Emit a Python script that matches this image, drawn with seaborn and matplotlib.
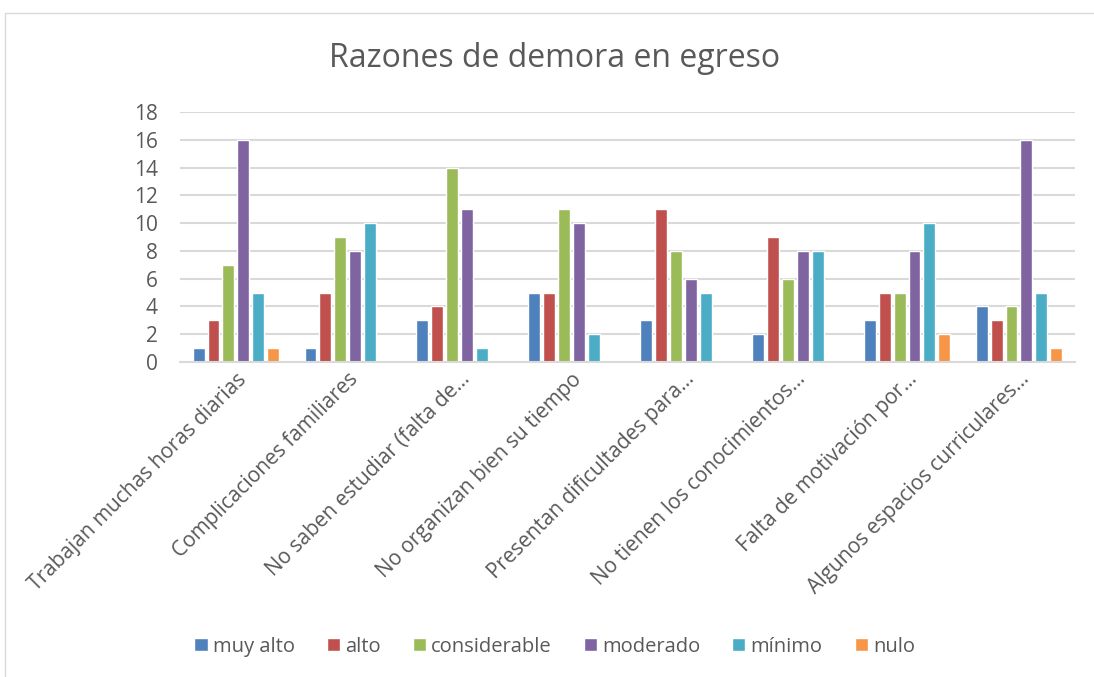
import matplotlib
matplotlib.use("Agg")
import matplotlib.pyplot as plt
import seaborn as sns
import pandas as pd
from matplotlib.patches import Rectangle

categories = [
    "Trabajan muchas horas diarias",
    "Complicaciones familiares",
    "No saben estudiar (falta de…",
    "No organizan bien su tiempo",
    "Presentan dificultades para…",
    "No tienen los conocimientos…",
    "Falta de motivación por…",
    "Algunos espacios curriculares…",
]
series_names = ["muy alto", "alto", "considerable", "moderado", "mínimo", "nulo"]
muy_alto = [1, 1, 3, 5, 3, 2, 3, 4]
alto = [3, 5, 4, 5, 11, 9, 5, 3]
considerable = [7, 9, 14, 11, 8, 6, 5, 4]
moderado = [16, 8, 11, 10, 6, 8, 8, 16]
minimo = [5, 10, 1, 2, 5, 8, 10, 5]
nulo = [1, 0, 0, 0, 0, 0, 2, 1]
y_ticks = [0, 2, 4, 6, 8, 10, 12, 14, 16, 18]
colors = ["#4F81BD", "#C0504D", "#9BBB59", "#8064A2", "#4BACC6", "#F79646"]

values = [muy_alto, alto, considerable, moderado, minimo, nulo]
rows = []
for name, vals in zip(series_names, values):
    for c, v in zip(categories, vals):
        rows.append({"cat": c, "serie": name, "valor": v})
df = pd.DataFrame(rows)

sns.set_theme(style="white")
plt.rcParams["font.family"] = ["Open Sans", "DejaVu Sans"]
text_color = "#595959"

fig = plt.figure(figsize=(10.94, 6.77), dpi=100)
ax = fig.add_axes([0.1645, 0.4653, 0.818, 0.3693])

sns.barplot(data=df, x="cat", y="valor", hue="serie", order=categories,
            hue_order=series_names, palette=colors, width=0.8, gap=0.2,
            ax=ax, saturation=1, legend=True)

ax.set_ylim(0, 18)
ax.set_yticks(y_ticks)
ax.set_xlim(-0.5, len(categories) - 0.5)
ax.yaxis.grid(True, color="#D9D9D9", linewidth=1.5)
ax.set_axisbelow(True)
for s in ["top", "right", "left"]:
    ax.spines[s].set_visible(False)
ax.spines["bottom"].set_color("#D9D9D9")
ax.spines["bottom"].set_linewidth(1.5)
ax.set_xlabel("")
ax.set_ylabel("")
ax.tick_params(axis="y", labelsize=15, colors=text_color, length=0, pad=16)
ax.tick_params(axis="x", labelsize=15, colors=text_color, length=0, pad=5)
ax.set_xticks(range(len(categories)))
ax.set_xticklabels(categories, rotation=45, ha="right", rotation_mode="anchor")

leg = ax.legend(loc="center", bbox_to_anchor=(0.507, 0.045), bbox_transform=fig.transFigure,
                ncol=6, frameon=False, fontsize=14.5, handlelength=0.65, handleheight=0.65,
                handletextpad=0.25, columnspacing=1.6)
for t in leg.get_texts():
    t.set_color(text_color)

fig.text(0.507, 0.913, "Razones de demora en egreso", ha="center", va="center",
         fontsize=23, color=text_color)

fig.patches.append(Rectangle((5 / 1094, -0.05), 1.2, 1 - 13 / 677 + 0.05,
                             transform=fig.transFigure, fill=False,
                             edgecolor="#D9D9D9", linewidth=1))

fig.savefig("out.png", dpi=100)
